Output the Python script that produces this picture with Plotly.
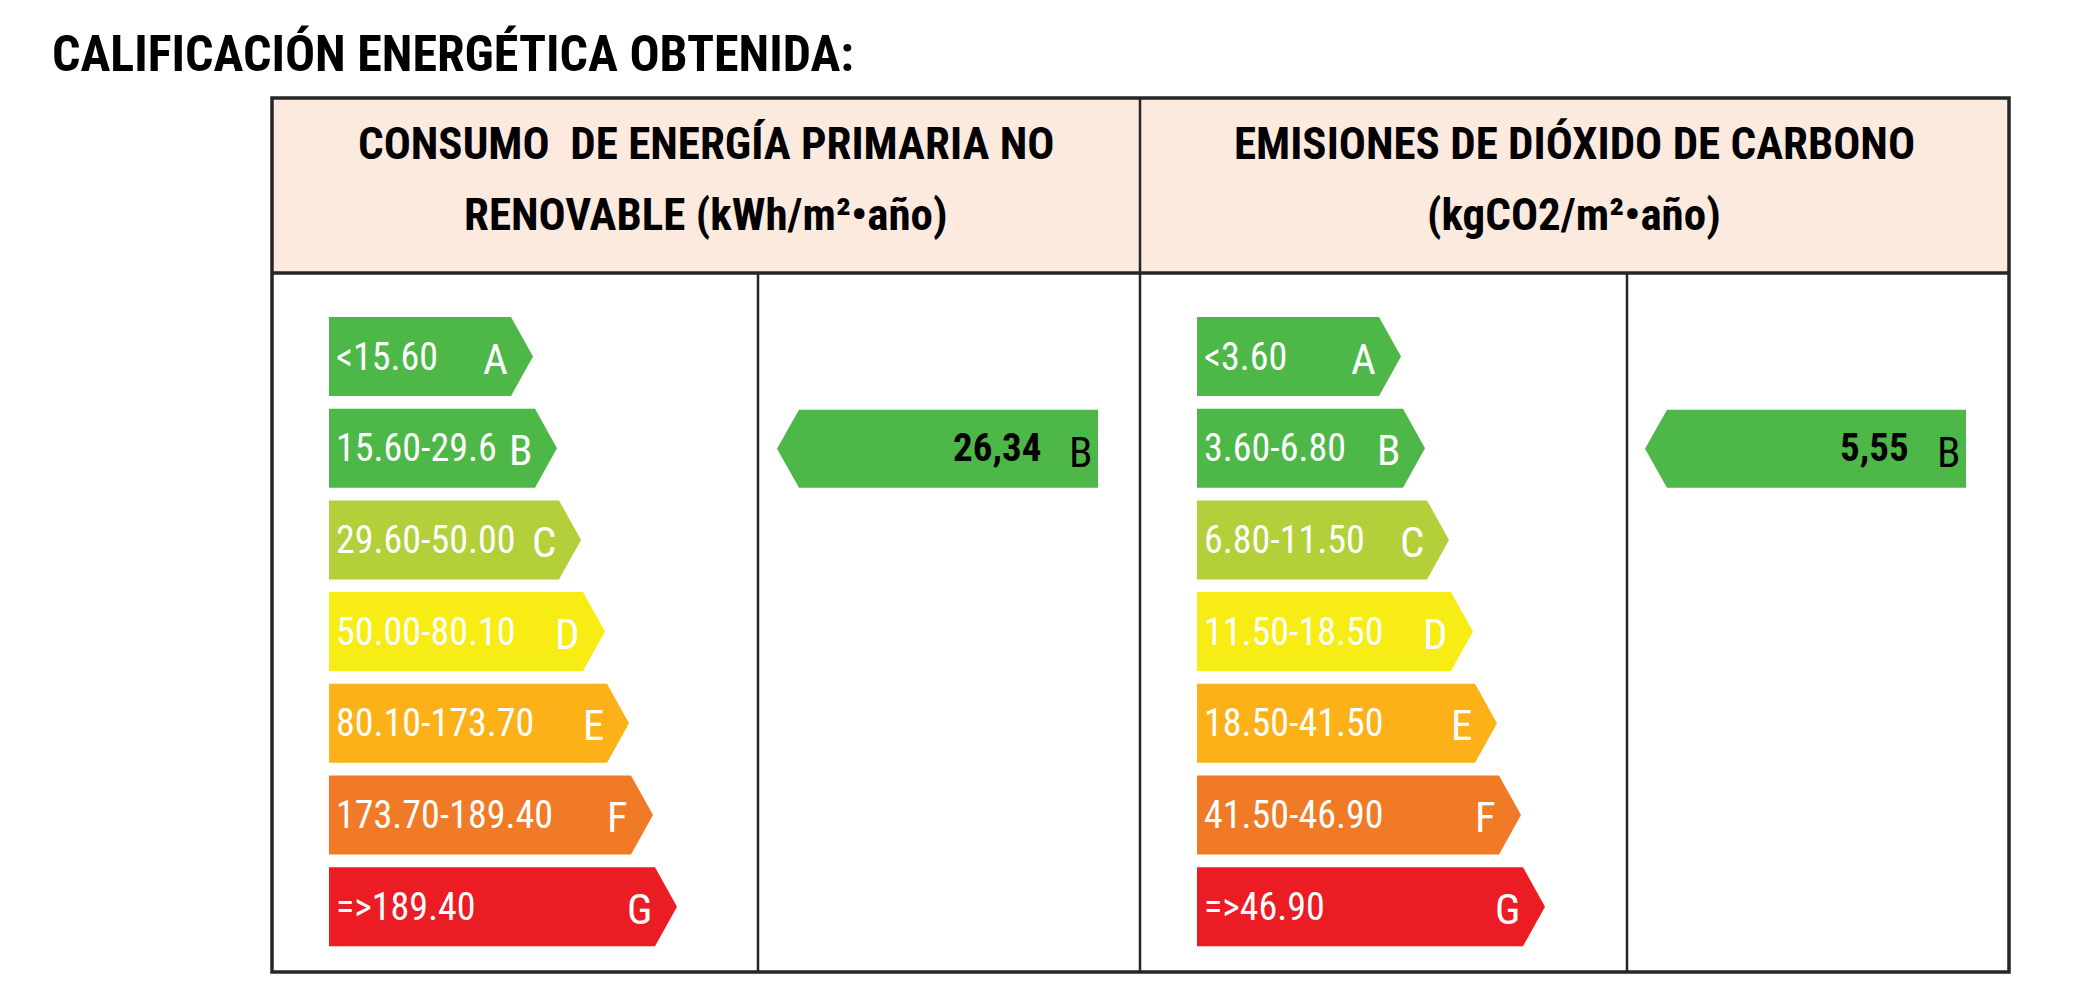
import plotly.graph_objects as go

# ---------------- data ----------------
title_text = "CALIFICACIÓN ENERGÉTICA OBTENIDA:"
energy_header = ["CONSUMO  DE ENERGÍA PRIMARIA NO", "RENOVABLE (kWh/m²•año)"]
co2_header = ["EMISIONES DE DIÓXIDO DE CARBONO", "(kgCO2/m²•año)"]
grades = ["A", "B", "C", "D", "E", "F", "G"]
energy_ranges = ["<15.60", "15.60-29.6", "29.60-50.00", "50.00-80.10",
                 "80.10-173.70", "173.70-189.40", "=>189.40"]
co2_ranges = ["<3.60", "3.60-6.80", "6.80-11.50", "11.50-18.50",
              "18.50-41.50", "41.50-46.90", "=>46.90"]
grade_colors = ["#4DB848", "#4DB848", "#B3CF3A", "#F7EC13",
                "#FBB117", "#F07A26", "#EC1C24"]
energy_value = "26,34"
energy_grade = "B"
co2_value = "5,55"
co2_grade = "B"

# ---------------- layout constants ----------------
W, H = 2100, 1000
FONT = "Roboto Condensed, Liberation Sans Narrow, Arial Narrow, DejaVu Sans Condensed, sans-serif"
T_LEFT, T_RIGHT, T_TOP, T_BOT = 272, 2009, 98, 972
HEAD_BOT = 273
MID_X = 1140
PANEL_OFFSET = MID_X - T_LEFT
INNER_X = 758
BAR_X0 = 329
BAR_TOP0 = 317
BAR_PITCH = 91.7
BAR_H = 79
BAR_LEN0 = 204
BAR_LEN_STEP = 24
TIP = 22

fig = go.Figure()
annotations = []
shapes = []


def poly(xs, ys, color):
    fig.add_trace(go.Scatter(x=xs, y=ys, mode="lines", fill="toself",
                             fillcolor=color, line=dict(width=0, color=color),
                             hoverinfo="skip", showlegend=False))


def ann(x, y, text, size, color="black", xanchor="center", bold=False):
    annotations.append(dict(x=x, y=y, xref="x", yref="y", text=text,
                            showarrow=False, xanchor=xanchor, yanchor="middle",
                            font=dict(family=FONT, size=size, color=color,
                                      weight="bold" if bold else "normal")))


# header background
shapes.append(dict(type="rect", x0=T_LEFT, x1=T_RIGHT, y0=T_TOP, y1=HEAD_BOT,
                   xref="x", yref="y", fillcolor="#FCEADF", line=dict(width=0),
                   layer="below"))

# title
ann(50, 54, title_text, 50, xanchor="left", bold=True)

# headers
for k, hdr in enumerate([energy_header, co2_header]):
    cx = (T_LEFT + MID_X) / 2 + k * PANEL_OFFSET
    ann(cx, 143, hdr[0], 45, bold=True)
    ann(cx, 214, hdr[1], 45, bold=True)

# rating scales
for k, ranges in enumerate([energy_ranges, co2_ranges]):
    off = k * PANEL_OFFSET
    for i, (lab, g, col) in enumerate(zip(ranges, grades, grade_colors)):
        top = BAR_TOP0 + i * BAR_PITCH
        bot = top + BAR_H
        mid = (top + bot) / 2
        x0 = BAR_X0 + off
        xt = x0 + BAR_LEN0 + i * BAR_LEN_STEP
        xb = xt - TIP
        poly([x0, xb, xt, xb, x0, x0], [top, top, mid, bot, bot, top], col)
        ann(x0 + 5, mid, lab, 38, color="white", xanchor="left")
        ann(xb - 1, mid + 2, g, 43, color="white", xanchor="right")

# result arrows
for k, (val, g) in enumerate([(energy_value, energy_grade), (co2_value, co2_grade)]):
    off = k * PANEL_OFFSET
    i = grades.index(g)
    top = BAR_TOP0 + i * BAR_PITCH + 1
    bot = top + BAR_H - 1
    mid = (top + bot) / 2
    xt = INNER_X + off + 19
    xb = xt + 22
    xe = MID_X + off - 42
    poly([xt, xb, xe, xe, xb, xt], [mid, top, top, bot, bot, mid], grade_colors[i])
    ann(xe - 55, mid - 1, val, 39, xanchor="right", bold=True)
    ann(xe - 31, mid + 3, g, 43, xanchor="left")

# table borders
LW = 3.5
LC = "#262626"
shapes.append(dict(type="rect", x0=T_LEFT, x1=T_RIGHT, y0=T_TOP, y1=T_BOT,
                   xref="x", yref="y", line=dict(width=LW, color=LC)))
shapes.append(dict(type="line", x0=T_LEFT, x1=T_RIGHT, y0=HEAD_BOT, y1=HEAD_BOT,
                   xref="x", yref="y", line=dict(width=LW, color=LC)))
shapes.append(dict(type="line", x0=MID_X, x1=MID_X, y0=T_TOP, y1=T_BOT,
                   xref="x", yref="y", line=dict(width=LW - 1, color=LC)))
for k in range(2):
    xi = INNER_X + k * (PANEL_OFFSET + 1)
    shapes.append(dict(type="line", x0=xi, x1=xi, y0=HEAD_BOT, y1=T_BOT,
                       xref="x", yref="y", line=dict(width=LW - 1, color=LC)))

fig.update_layout(
    width=W, height=H,
    margin=dict(l=0, r=0, t=0, b=0),
    paper_bgcolor="white", plot_bgcolor="white",
    xaxis=dict(range=[0, W], visible=False, fixedrange=True),
    yaxis=dict(range=[H, 0], visible=False, fixedrange=True),
    annotations=annotations, shapes=shapes, showlegend=False,
)

fig.write_html("out.html", config={"displayModeBar": False, "staticPlot": True},
               post_script="document.body.style.margin='0';document.body.style.overflow='hidden';")
